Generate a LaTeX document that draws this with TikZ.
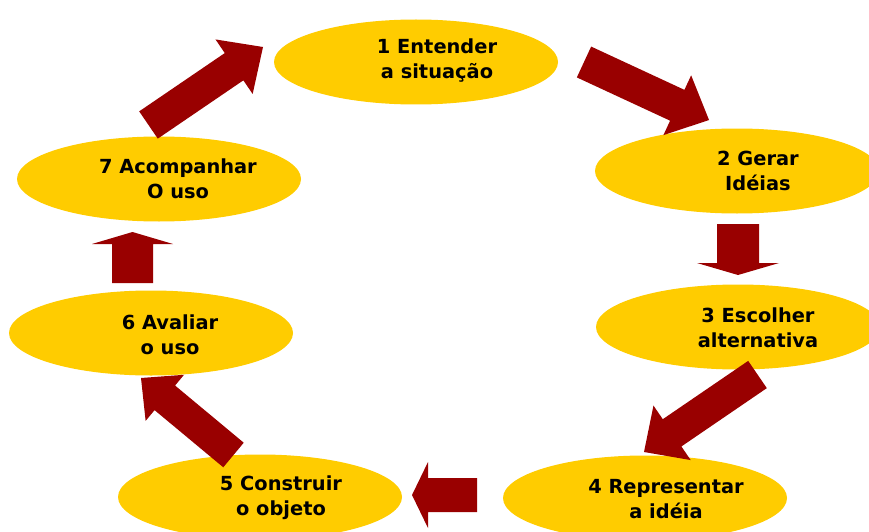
\documentclass[tikz,border=0pt]{standalone}
\usepackage{fontspec}
\setmainfont{DejaVu Sans}
\usetikzlibrary{shapes.geometric,calc}
\definecolor{ellyellow}{HTML}{FFCC00}
\definecolor{arrowred}{HTML}{990000}
% #1 tail coordinate, #2 tip coordinate, #3 shaft half width, #4 head half width, #5 head length
\newcommand{\blockarrow}[5]{%
  \coordinate (#1n) at ($(#2)!#5!(#1)$);
  \fill[arrowred] ($(#1)!#3!90:(#2)$) -- ($(#1n)!#3!90:(#2)$) -- ($(#1n)!#4!90:(#2)$) -- (#2)
    -- ($(#1n)!#4!-90:(#2)$) -- ($(#1n)!#3!-90:(#2)$) -- ($(#1)!#3!-90:(#2)$) -- cycle;}
\begin{document}
\begin{tikzpicture}[x=1pt,y=-1pt,
  stage/.style={ellipse, fill=ellyellow, minimum width=284pt, minimum height=85pt, inner sep=0pt},
  steptext/.style={font=\fontsize{19.4}{25}\selectfont\bfseries, align=center, inner sep=0pt}]
\useasboundingbox (0,0) rectangle (869,532);
% ellipses
\node[stage] (e1) at (416,62) {};
\node[stage] (e2) at (737,171) {};
\node[stage] (e3) at (738,327) {};
\node[stage] (e4) at (645,498) {};
\node[stage] (e5) at (260,497) {};
\node[stage] (e6) at (151,333) {};
\node[stage] (e7) at (159,179) {};
% texts
\node[steptext] (t1) at (437,61) {1 Entender\\a situação};
\node[steptext] (t2) at (758,171) {2 Gerar\\Idéias};
\node[steptext] (t3) at (758,328) {3 Escolher\\alternativa};
\node[steptext] (t4) at (666,499) {4 Representar\\a idéia};
\node[steptext] (t5) at (281,498) {5 Construir\\o objeto};
\node[steptext] (t6) at (170,335) {6 Avaliar\\o uso};
\node[steptext] (t7) at (178,179) {7 Acompanhar\\O uso};
% arrow coordinates
\coordinate (aT) at (148.5,125); \coordinate (aP) at (263,47);
\coordinate (bT) at (584,62);    \coordinate (bP) at (709,120);
\coordinate (cT) at (738,224);   \coordinate (cP) at (738,275);
\coordinate (dT) at (757.5,374.5); \coordinate (dP) at (644,452);
\coordinate (eT) at (477,495);   \coordinate (eP) at (412,495);
\coordinate (fT) at (233.5,455); \coordinate (fP) at (141,378);
\coordinate (gT) at (132.5,283); \coordinate (gP) at (132.5,232);
% arrows
\blockarrow{aT}{aP}{16.5pt}{33pt}{35pt}
\blockarrow{bT}{bP}{17pt}{33pt}{35pt}
\blockarrow{cT}{cP}{21pt}{41pt}{12pt}
\blockarrow{dT}{dP}{16.5pt}{33pt}{34pt}
\blockarrow{eT}{eP}{17pt}{33pt}{16pt}
\blockarrow{fT}{fP}{16pt}{30pt}{31pt}
\blockarrow{gT}{gP}{20.5pt}{40.5pt}{12pt}
\end{tikzpicture}
\end{document}
